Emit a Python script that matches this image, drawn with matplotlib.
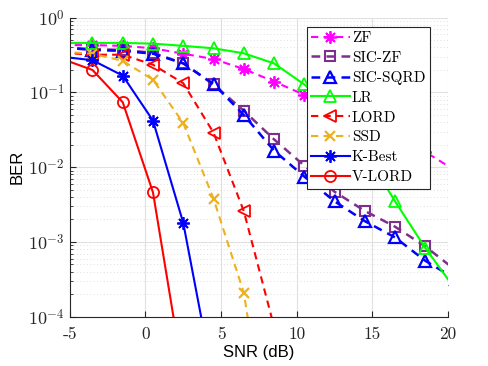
import numpy as np
import matplotlib
matplotlib.use("Agg")
import matplotlib.pyplot as plt
from matplotlib.ticker import FixedLocator, LogLocator, FuncFormatter, NullFormatter

# SNR points (dB); curves that drop below 1e-4 just use fewer points
snr = [-5.5, -3.5, -1.5, 0.5, 2.5, 4.5, 6.5, 8.5, 10.5, 12.5, 14.5, 16.5, 18.5, 20.5]

ber_zf = [0.43, 0.43, 0.42, 0.39, 0.33, 0.28, 0.206, 0.14, 0.093, 0.063, 0.04, 0.026, 0.016, 0.009]
ber_sic_zf = [0.40, 0.38, 0.37, 0.34, 0.245, 0.128, 0.057, 0.0236, 0.0105, 0.0047, 0.0026, 0.0016, 0.00087, 0.00042]
ber_sic_sqrd = [0.40, 0.37, 0.36, 0.33, 0.245, 0.13, 0.05, 0.0167, 0.0075, 0.0035, 0.0019, 0.00115, 0.00056, 0.00032]
ber_lr = [0.46, 0.46, 0.46, 0.45, 0.42, 0.39, 0.334, 0.245, 0.128, 0.055, 0.016, 0.0035, 0.00083, 0.00023]
ber_lord = [0.34, 0.32, 0.32, 0.235, 0.133, 0.029, 0.0026, 7.4e-5]
ber_ssd = [0.35, 0.33, 0.265, 0.148, 0.039, 0.0038, 0.00021, 6e-7]
ber_kbest = [0.30, 0.27, 0.168, 0.042, 0.0018, 1.35e-5]
ber_vlord = [0.28, 0.20, 0.074, 0.0046, 1.6e-5]

labels = ["ZF", "SIC-ZF", "SIC-SQRD", "LR", "LORD", "SSD", "K-Best", "V-LORD"]

plt.rcParams['mathtext.fontset'] = 'cm'

fig = plt.figure(figsize=(4.88, 3.66), dpi=100)
ax = fig.add_axes([0.143, 0.1347, 0.775, 0.8169])

ast = (8, 2, 0)
styles = [
    (ber_zf, dict(color='#FF00FF', ls='--', lw=1.5, marker=ast, ms=9, mew=1.3)),
    (ber_sic_zf, dict(color='#7E2F8E', ls='--', lw=1.8, marker='s', ms=6.5, mfc='none', mew=1.5)),
    (ber_sic_sqrd, dict(color='#0000FF', ls='--', lw=1.8, marker='^', ms=9, mfc='none', mew=1.6)),
    (ber_lr, dict(color='#00FF00', ls='-', lw=1.5, marker='^', ms=9, mfc='none', mew=1.3)),
    (ber_lord, dict(color='#FF0000', ls='--', lw=1.5, marker='<', ms=9, mfc='none', mew=1.3)),
    (ber_ssd, dict(color='#EDB120', ls='--', lw=1.5, marker='x', ms=6.5, mew=1.6)),
    (ber_kbest, dict(color='#0000FF', ls='-', lw=1.5, marker=ast, ms=9, mew=1.3)),
    (ber_vlord, dict(color='#FF0000', ls='-', lw=1.5, marker='o', ms=8, mfc='none', mew=1.3)),
]
for (ber, kw), lab in zip(styles, labels):
    if kw['ls'] == '--':
        kw['dashes'] = (3.5, 2.5)
    ax.semilogy(snr[:len(ber)], ber, label=lab, **kw)

ax.set_xlim(-5, 20)
ax.set_ylim(1e-4, 1)

ax.xaxis.set_major_locator(FixedLocator([-5, 0, 5, 10, 15, 20]))
ax.set_xticklabels(['-5', '0', '5', '10', '15', '20'], family='cmr10', fontsize=12.5)
ax.yaxis.set_major_locator(LogLocator(base=10, numticks=10))
ax.yaxis.set_minor_locator(LogLocator(base=10, subs=np.arange(2, 10), numticks=10))
ax.yaxis.set_major_formatter(FuncFormatter(lambda v, p: r'$10^{%d}$' % round(np.log10(v))))
ax.yaxis.set_minor_formatter(NullFormatter())
ax.tick_params(axis='y', labelsize=13)
ax.tick_params(axis='x', pad=7)

ax.tick_params(which='both', direction='in', colors='#262626', top=False, right=False)
ax.tick_params(which='major', length=4)
ax.tick_params(which='minor', length=2.5)

ax.grid(True, which='major', color='#e0e0e0', lw=0.8, ls='-')
ax.grid(True, which='minor', axis='y', color='#d6d6d6', lw=0.6, ls=(0, (1, 3)))
ax.set_axisbelow(True)

for s in ['top', 'right']:
    ax.spines[s].set_visible(False)
for s in ['left', 'bottom']:
    ax.spines[s].set_color('#262626')
    ax.spines[s].set_linewidth(0.8)

ax.set_xlabel('SNR (dB)', family='Liberation Sans', fontsize=12, labelpad=2)
ax.set_ylabel('BER', family='Liberation Sans', fontsize=12, labelpad=3)

leg = ax.legend(loc='upper left', bbox_to_anchor=(0.6265, 0.97), prop={'family': 'cmr10', 'size': 11},
                frameon=True, fancybox=False, framealpha=1, edgecolor='#262626',
                handlelength=2.5, handletextpad=0.15, labelspacing=0.4, borderpad=0.3,
                borderaxespad=0)
leg.get_frame().set_linewidth(0.8)

fig.savefig('out.png', dpi=100)
